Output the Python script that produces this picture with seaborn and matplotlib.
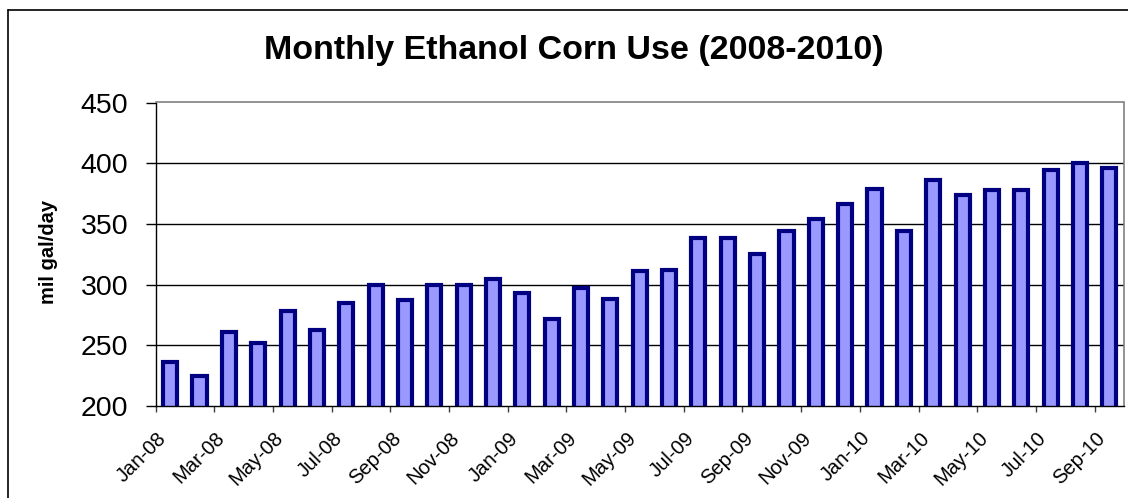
import numpy as np
import pandas as pd
import seaborn as sns
import matplotlib.pyplot as plt
from matplotlib.lines import Line2D
from matplotlib.transforms import ScaledTranslation

months = ["Jan-08", "Feb-08", "Mar-08", "Apr-08", "May-08", "Jun-08", "Jul-08", "Aug-08",
          "Sep-08", "Oct-08", "Nov-08", "Dec-08",
          "Jan-09", "Feb-09", "Mar-09", "Apr-09", "May-09", "Jun-09", "Jul-09", "Aug-09",
          "Sep-09", "Oct-09", "Nov-09", "Dec-09",
          "Jan-10", "Feb-10", "Mar-10", "Apr-10", "May-10", "Jun-10", "Jul-10", "Aug-10",
          "Sep-10"]
corn_use = [236, 225, 261, 252, 278, 263, 285, 300, 287, 300, 300, 305,
            293, 272, 297, 288, 311, 312, 338, 338, 325, 344, 354, 366,
            379, 344, 386, 374, 378, 378, 394, 400, 396]
tick_labels = months[::2]
yticks = [200, 250, 300, 350, 400, 450]

sns.set_style("white")
plt.rcParams['font.family'] = ['Liberation Sans', 'DejaVu Sans']
plt.rcParams['text.color'] = 'black'
plt.rcParams['xtick.color'] = 'black'
plt.rcParams['ytick.color'] = 'black'

df = pd.DataFrame({"month": months, "use": corn_use})

fig = plt.figure(figsize=(11.28, 4.98), dpi=100)
ax = fig.add_axes([155.5 / 1128, 1 - 406 / 498, (1124 - 155.5) / 1128, (406 - 102.5) / 498])

sns.barplot(data=df, x="month", y="use", ax=ax, width=0.48,
            color="#9999FF", saturation=1, edgecolor="#000080", linewidth=3.0)

ax.set_ylim(200, 450)
ax.set_xlim(-0.5, len(months) - 0.5)
ax.set_yticks(yticks)
ax.set_yticklabels([str(v) for v in yticks], fontsize=20.5)
ax.tick_params(axis='y', direction='out', length=7, width=1, color='black', pad=12.5, left=True)
for v in yticks[1:-1]:
    ax.axhline(v, color='black', lw=1, zorder=0)

# labels every two months, tick marks between categories
ax.set_xticks(range(0, len(months), 2))
ax.set_xticklabels(tick_labels, fontsize=14.5, rotation=45, ha='right', va='center',
                   rotation_mode='anchor')
ax.set_xticks(np.arange(-0.5, len(months) - 1, 2), minor=True)
ax.tick_params(axis='x', which='major', length=0, pad=21)
ax.tick_params(axis='x', which='minor', direction='out', length=4.5, width=1,
               color='#404040', bottom=True)
for lbl in ax.get_xticklabels():
    lbl.set_transform(lbl.get_transform() + ScaledTranslation(-7 / 100, 0, fig.dpi_scale_trans))

ax.set_xlabel("")
ax.set_ylabel("")
for side in ["left", "bottom"]:
    ax.spines[side].set_color("black")
    ax.spines[side].set_linewidth(1)
for side in ["top", "right"]:
    ax.spines[side].set_visible(True)
    ax.spines[side].set_color("#808080")
    ax.spines[side].set_linewidth(1.2)

fig.text(573.5 / 1128, 1 - 50 / 498, "Monthly Ethanol Corn Use (2008-2010)",
         ha='center', va='center', fontsize=24.5, fontweight='bold')
fig.text(48 / 1128, 1 - 252 / 498, "mil gal/day", rotation=90,
         ha='center', va='center', fontsize=14.5, fontweight='bold')

# outer chart border (left and top edges visible)
fig.add_artist(Line2D([8 / 1128, 8 / 1128], [0, 1 - 10 / 498], color='black', lw=1.2))
fig.add_artist(Line2D([8 / 1128, 1], [1 - 10 / 498, 1 - 10 / 498], color='black', lw=1.2))

fig.savefig("out.png", dpi=100)
